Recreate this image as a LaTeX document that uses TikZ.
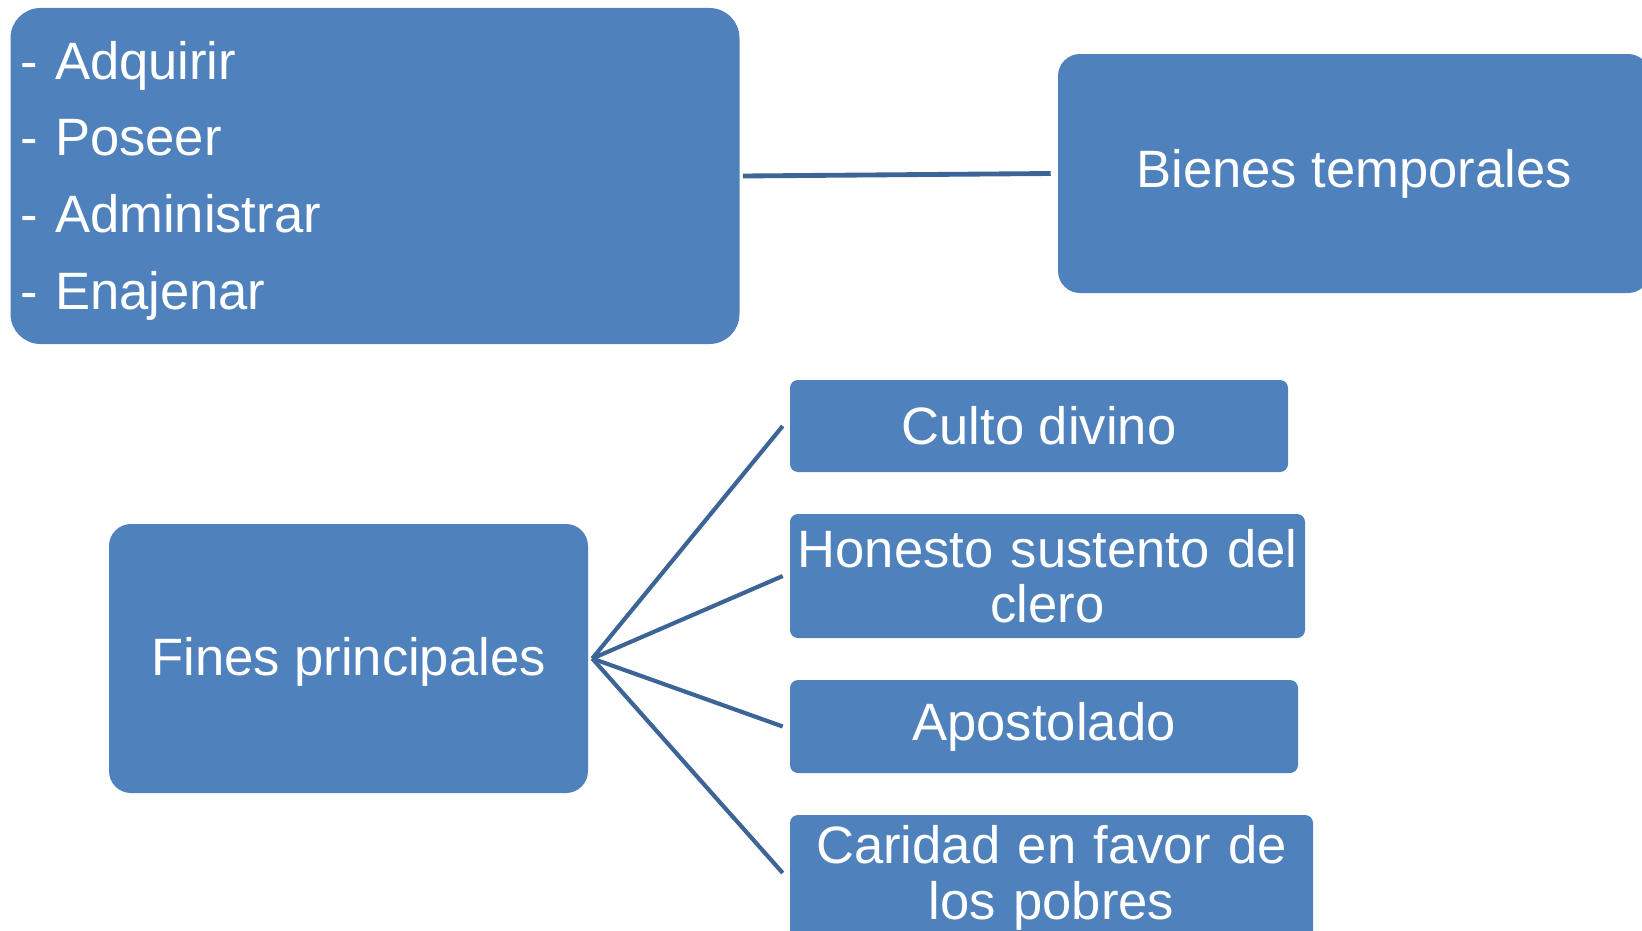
\documentclass[tikz,border=0pt]{standalone}
\usepackage{fontspec}
\setmainfont{Liberation Sans}
\usepackage{tikz}
\usetikzlibrary{positioning}
\definecolor{boxblue}{RGB}{79,129,189}
\definecolor{linkblue}{RGB}{60,100,150}
\tikzset{
  bluebox/.style={shape=rectangle,fill=boxblue,text=white,align=center,inner sep=0pt,
    font=\fontsize{38}{40}\selectfont},
  link/.style={draw=linkblue,line width=3pt}
}

\begin{document}
\begin{tikzpicture}
\useasboundingbox (0in,0in) rectangle (16.42in,-9.31in);

\path (3.75in,-1.76in) node (acciones) [bluebox,rounded corners=0.3in,minimum height=3.36in,minimum width=7.29in,text width=7.1in,align=left,text height=34pt,font=\fontsize{38}{55.4}\selectfont]{- Adquirir\\- Poseer\\- Administrar\\- Enajenar};

\path (13.54in,-1.735in) node (bienes) [bluebox,rounded corners=0.22in,minimum height=2.39in,minimum width=5.92in]{Bienes temporales};

\path (3.485in,-6.585in) node (fines) [bluebox,rounded corners=0.22in,minimum height=2.69in,minimum width=4.79in,text height=32pt]{Fines principales};

\path (10.39in,-4.26in) node (culto) [bluebox,rounded corners=0.08in,minimum height=0.92in,minimum width=4.98in]{Culto divino};

\path (10.475in,-5.76in) node (clero) [bluebox,rounded corners=0.08in,minimum height=1.24in,minimum width=5.15in,text width=5.1in]{Honesto sustento del\\clero};

\path (10.44in,-7.265in) node (apostolado) [bluebox,rounded corners=0.08in,minimum height=0.93in,minimum width=5.08in]{Apostolado};

\path (10.515in,-8.78in) node (caridad) [bluebox,rounded corners=0.08in,minimum height=1.26in,minimum width=5.23in,text width=5.2in]{Caridad en favor de\\los pobres};

\draw [link,line width=3.5pt] ([xshift=0.03in]acciones.east) -- ([xshift=-0.07in]bienes.west);

\coordinate (hub) at ([xshift=0.04in]fines.east);
\foreach \fin in {culto,clero,apostolado}
  \draw [link] (hub) -- ([xshift=-0.07in]\fin.west);
\draw [link] (hub) -- ([xshift=-0.07in,yshift=0.05in]caridad.west);

\end{tikzpicture}
\end{document}
